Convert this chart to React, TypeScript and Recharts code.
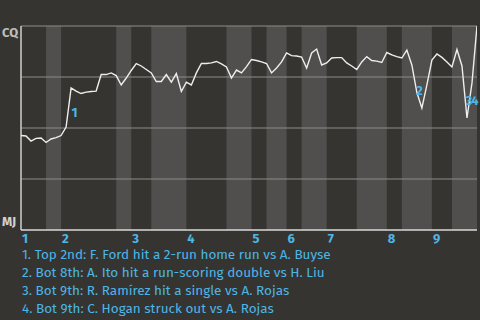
import React from "react";
import {
  ComposedChart,
  Line,
  XAxis,
  YAxis,
  ReferenceArea,
  ReferenceLine,
  ReferenceDot,
} from "recharts";

// Win probability (%) for CQ after each event (index 0..91)
const winProb: number[] = [
  46.3, 46.1, 43.6, 44.9, 45.1, 42.9, 44.6, 45.3, 46.3, 50.5,
  69.6, 68.1, 66.9, 67.6, 67.9, 68.1, 76.2, 76.2, 77.0, 75.7,
  71.1, 74.5, 78.2, 81.6, 80.4, 78.7, 77.0, 72.8, 72.8, 76.2,
  72.5, 76.7, 67.9, 72.5, 71.1, 77.0, 81.6, 81.6, 81.9, 82.6,
  81.4, 79.9, 74.5, 78.4, 77.0, 80.1, 83.6, 83.1, 82.4, 81.6,
  77.0, 79.4, 82.4, 86.8, 85.5, 85.3, 84.8, 79.4, 86.8, 88.7,
  80.9, 81.9, 84.3, 84.5, 84.5, 81.9, 80.4, 78.7, 82.4, 85.0,
  83.1, 82.8, 82.1, 87.0, 85.8, 85.0, 84.3, 88.2, 80.9, 67.4,
  59.8, 71.1, 83.3, 86.3, 84.6, 82.4, 79.9, 88.5, 80.4, 54.9,
  72.1, 100,
];

// Event index where each half-inning starts (last = end of game)
const halfInningStarts: number[] = [0, 5, 8, 19, 22, 26, 33, 41, 46, 49, 53, 56, 61, 67, 73, 76, 82, 86, 91];
const inningLabels: string[] = ["1", "2", "3", "4", "5", "6", "7", "8", "9"];

// Key-play markers: [event index, win prob]
const markerLabels: string[] = ["1", "2", "3", "4"];
const markerX: number[] = [10.7, 79.5, 89.4, 90.6];
const markerY: number[] = [57.6, 68.6, 63.7, 63.7];

const notes: string[] = [
  "1. Top 2nd: F. Ford hit a 2-run home run vs A. Buyse",
  "2. Bot 8th: A. Ito hit a run-scoring double vs H. Liu",
  "3. Bot 9th: R. Ramírez hit a single vs A. Rojas",
  "4. Bot 9th: C. Hogan struck out vs A. Rojas",
];

const data = winProb.map((v, i) => ({ idx: i, wp: v }));
const topStarts = halfInningStarts.filter((_, i) => i % 2 === 0 && i < 18);
const bottomBands = halfInningStarts
  .map((s, i) => (i % 2 === 1 ? [s, halfInningStarts[i + 1]] : null))
  .filter((b): b is number[] => b !== null && b[1] !== undefined);

const BLUE = "#4db6e6";
const FONT = "'Fira Sans', 'Open Sans', 'Noto Sans', sans-serif";

const InningTick = (props: any) => {
  const { x, y, payload } = props;
  const k = topStarts.indexOf(payload.value);
  return (
    <text x={x + 1} y={y + 5} fill={BLUE} fontSize={13} fontWeight="bold" fontFamily={FONT} textAnchor="start">
      {inningLabels[k]}
    </text>
  );
};

export default function App() {
  return (
    <div style={{ position: "absolute", left: 0, top: 0, width: 480, height: 320, background: "#363431", fontFamily: FONT }}>
      <ComposedChart width={480} height={250} data={data} margin={{ top: 26, right: 3, left: 21, bottom: 0 }}>
        <XAxis
          dataKey="idx"
          type="number"
          domain={[0, 91]}
          ticks={topStarts}
          interval={0}
          tickLine={false}
          axisLine={{ stroke: "#d8d8d8", strokeWidth: 1.5 }}
          tick={<InningTick />}
          height={20}
          allowDataOverflow
        />
        <YAxis hide type="number" domain={[0, 100]} />
        {bottomBands.map((b, i) => (
          <ReferenceArea key={"b" + i} x1={b[0]} x2={b[1]} y1={0} y2={100} fill="#504f4d" fillOpacity={1} stroke="none" />
        ))}
        {[25, 50, 75, 100].map((v) => (
          <ReferenceLine key={"g" + v} y={v} stroke="#8e8c88" strokeWidth={1.2} />
        ))}
        <ReferenceLine x={0} stroke="#cfcfcf" strokeWidth={1.5} />
        <Line
          dataKey="wp"
          type="linear"
          stroke="#eeeeee"
          strokeWidth={1.4}
          dot={false}
          isAnimationActive={false}
        />
        {markerLabels.map((m, i) => (
          <ReferenceDot
            key={"m" + i}
            x={markerX[i]}
            y={markerY[i]}
            r={0}
            shape={(p: any) => (
              <text
                x={p.cx}
                y={p.cy}
                textAnchor="middle"
                dominantBaseline="central"
                fill={BLUE}
                fontSize={13}
                fontWeight="bold"
                fontFamily={FONT}
              >
                {m}
              </text>
            )}
          />
        ))}
      </ComposedChart>
      <div style={{ position: "absolute", left: 2, top: 25, color: "#bdbdbd", fontWeight: "bold", fontSize: 13 }}>CQ</div>
      <div style={{ position: "absolute", left: 2, top: 214, color: "#d0d0d0", fontWeight: "bold", fontSize: 13 }}>MJ</div>
      <div style={{ position: "absolute", left: 22, top: 246, color: BLUE, fontSize: 13.5, lineHeight: "18px" }}>
        {notes.map((n, i) => (
          <div key={i} style={{ whiteSpace: "nowrap" }}>{n}</div>
        ))}
      </div>
    </div>
  );
}
